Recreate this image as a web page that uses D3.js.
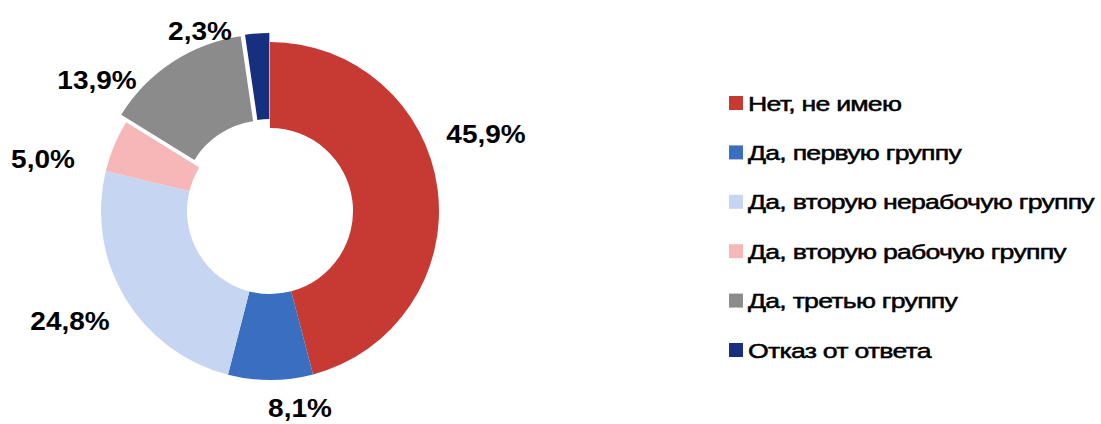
<!DOCTYPE html>
<html>
<head>
<meta charset="utf-8">
<script src="https://cdn.jsdelivr.net/npm/d3@7"></script>
<style>
  html, body { margin: 0; padding: 0; background: #ffffff; }
  svg { display: block; font-family: "Liberation Sans", Arial, sans-serif; }
</style>
</head>
<body>
<svg id="chart" width="1101" height="424"></svg>
<script>
// Answer categories and their shares, %
const categories = [
  "Нет, не имею",
  "Да, первую группу",
  "Да, вторую нерабочую группу",
  "Да, вторую рабочую группу",
  "Да, третью группу",
  "Отказ от ответа"
];
const shares = [45.9, 8.1, 24.8, 5.0, 13.9, 2.3];
const sliceColors = ["#c73a33", "#3a6fbf", "#c6d6f2", "#f5b7b7", "#8b8b8b", "#16307f"];
// Slices pulled out of the ring (pixels)
const explode = [0, 0, 0, 0, 9, 9];

// Layout
const cx = 270, cy = 211, outerR = 169, innerR = 83;
// Value label anchors (text centre x, baseline y)
const labelAnchors = [[486, 143], [300, 417], [70, 330], [43, 168], [97, 89], [200, 40]];
// Text in this chart is set slightly wide
const labelStretch = 1.12, legendStretch = 1.27;

const svg = d3.select("#chart");
const data = categories.map((c, i) => ({ name: c, value: shares[i], i }));

const pie = d3.pie().sort(null).value(d => d.value);
const arc = d3.arc().innerRadius(innerR).outerRadius(outerR);
const arcs = pie(data);

const g = svg.append("g").attr("transform", `translate(${cx},${cy})`);
g.selectAll("path")
  .data(arcs)
  .join("path")
  .attr("d", arc)
  .attr("fill", d => sliceColors[d.data.i])
  .attr("transform", d => {
    const a = (d.startAngle + d.endAngle) / 2;
    const o = explode[d.data.i];
    return `translate(${o * Math.sin(a)},${-o * Math.cos(a)})`;
  });

const fmt = v => d3.format(".1f")(v).replace(".", ",") + "%";
svg.append("g")
  .selectAll("text")
  .data(data)
  .join("text")
  .attr("transform", d => `translate(${labelAnchors[d.i][0]},${labelAnchors[d.i][1]}) scale(${labelStretch},1)`)
  .attr("text-anchor", "middle")
  .attr("font-size", 25)
  .attr("font-weight", "bold")
  .attr("fill", "#000")
  .text(d => fmt(d.value));

// Legend
const legendX = 729, legendY0 = 103, legendStep = 49.4, box = 14;
const lg = svg.append("g")
  .selectAll("g")
  .data(data)
  .join("g")
  .attr("transform", d => `translate(${legendX},${legendY0 + d.i * legendStep})`);
lg.append("rect")
  .attr("x", 0).attr("y", -box / 2)
  .attr("width", box).attr("height", box)
  .attr("fill", d => sliceColors[d.i]);
lg.append("text")
  .attr("transform", `translate(19,7.5) scale(${legendStretch},1)`)
  .attr("font-size", 21)
  .attr("letter-spacing", -0.6)
  .attr("fill", "#000")
  .attr("stroke", "#000")
  .attr("stroke-width", 0.5)
  .text(d => d.name);
</script>
</body>
</html>
